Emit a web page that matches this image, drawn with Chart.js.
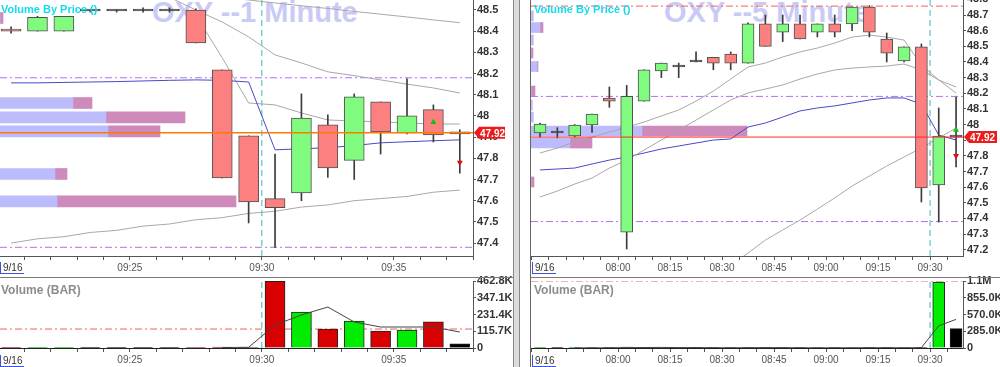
<!DOCTYPE html>
<html>
<head>
<meta charset="utf-8">
<script src="https://cdn.jsdelivr.net/npm/chart.js@4.4.1/dist/chart.umd.min.js"></script>
<style>
body { margin: 0; background: #fff; }
#wrap { position: relative; width: 1000px; height: 367px; overflow: hidden; font-family: "Liberation Sans", Arial, sans-serif; }
canvas { position: absolute; z-index: 2; }
.txt { position: absolute; white-space: nowrap; }
.wm { font-size: 29px; font-weight: bold; color: #cacaf6; line-height: 29px; top: -2px; z-index: 1; }
.vbp { font-size: 11px; font-weight: bold; color: #14dcec; line-height: 11px; top: 4px; z-index: 5; }
.volt { font-size: 12px; font-weight: bold; color: #8c8c8c; line-height: 12px; top: 284px; z-index: 5; }
.date { font-size: 10px; color: #333; line-height: 11px; border-left: 1px solid #4050e0; border-bottom: 1px solid #4050e0; padding: 0 2px; z-index: 5; }
.sep { position: absolute; background: #7a7a7a; z-index: 6; }
</style>
</head>
<body>
<div id="wrap">
  <div class="txt wm" style="left:152px">OXY --1 Minute</div>
  <div class="txt wm" style="left:664px">OXY --5 Minute</div>
  <div class="txt vbp" style="left:1px">Volume By Price ()</div>
  <div class="txt vbp" style="left:534px">Volume By Price ()</div>
  <div class="txt volt" style="left:1px">Volume (BAR)</div>
  <div class="txt volt" style="left:534px">Volume (BAR)</div>
  <div class="txt date" style="left:0px;top:262px">9/16</div>
  <div class="txt date" style="left:0px;top:355px">9/16</div>
  <div class="txt date" style="left:532px;top:262px">9/16</div>
  <div class="txt date" style="left:532px;top:355px">9/16</div>

  <canvas id="priceL" width="513" height="278" style="left:0;top:0"></canvas>
  <canvas id="volL" width="513" height="97" style="left:0;top:270px"></canvas>
  <canvas id="priceR" width="469" height="278" style="left:531px;top:0"></canvas>
  <canvas id="volR" width="469" height="97" style="left:531px;top:270px"></canvas>

  <div class="sep" style="left:0;top:277px;width:513px;height:1px"></div>
  <div class="sep" style="left:531px;top:277px;width:469px;height:1px"></div>
  <div class="sep" style="left:513px;top:0;width:7px;height:367px;background:#dcdcdc;border-left:1px solid #888;border-right:1px solid #888;box-sizing:border-box"></div>
  <div class="sep" style="left:530px;top:0;width:1px;height:367px;background:#666"></div>
</div>

<script>
// ---------- 1 minute (left) ----------
const leftBars = ['09:20','09:21','09:22','09:23','09:24','09:25','09:26','09:27','09:28',
                  '09:29','09:30','09:31','09:32','09:33','09:34','09:35','09:36','09:37'];
const leftOpen  = [48.41,48.40,48.40,48.495,48.495,48.495,48.495,48.50,48.217,47.906,47.61,47.637,47.958,47.79,48.066,47.92,48.03,47.915];
const leftHigh  = [48.42,48.47,48.47,48.50,48.50,48.51,48.51,48.505,48.217,47.906,47.82,48.104,48.005,48.104,48.066,48.175,48.052,47.935];
const leftLow   = [48.39,48.40,48.40,48.49,48.49,48.49,48.49,48.345,47.707,47.495,47.38,47.60,47.71,47.70,47.82,47.915,47.877,47.73];
const leftClose = [48.40,48.465,48.47,48.495,48.495,48.495,48.495,48.345,47.707,47.594,47.567,47.99,47.755,48.09,47.925,48.0,47.91,47.915];
const leftVolume = [2000,1500,1500,1000,1000,1000,1000,3000,6000,4000,460000,248000,131000,186000,117000,124000,180000,28000];
const leftVolAvg = [null,null,null,null,null,null,null,null,3000,5000,159000,228000,283000,180000,145000,145000,145000,110000];
const leftUpper = [null,null,null,null,null,null,null,48.575,48.56,48.547,48.533,48.52,48.507,48.493,48.48,48.467,48.453,48.44];
const leftMid   = [null,null,null,null,null,null,48.56,48.50,48.443,48.373,48.288,48.25,48.208,48.19,48.17,48.15,48.132,48.108];
const leftFast  = [null,null,null,null,null,null,null,48.476,48.274,48.061,48.052,48.014,47.981,47.976,47.972,47.967,47.962,47.962];
const leftLower = [47.40,47.42,47.43,47.45,47.46,47.48,47.49,47.51,47.52,47.54,47.55,47.57,47.58,47.60,47.61,47.62,47.64,47.65];
const leftVwap  = [48.156,48.156,48.158,48.16,48.162,48.165,48.168,48.17,48.168,48.16,47.84,47.845,47.85,47.86,47.873,47.878,47.883,47.887];
const leftVbpPrice = [48.462,48.061,47.993,47.927,47.726,47.597];
const leftVbpBuy   = [0,73,106,108,55,57];
const leftVbpSell  = [3,19,79,52,12,179];
const leftPriceTicks = [47.4,47.5,47.6,47.7,47.8,47.9,48.0,48.1,48.2,48.3,48.4,48.5];
const leftVolTicks = [0,115700,231400,347100,462800];
const leftTimeLabels = ['09:25','09:30','09:35'];
const leftUpTri = {bar: '09:36', price: 47.97};
const leftDownTri = {bar: '09:37', price: 47.78};
const leftVolLevel = 131000;

// ---------- 5 minute (right) ----------
const rightBars = ['07:35','07:40','07:45','07:50','07:55','08:00','08:05','08:10','08:15','08:20','08:25','08:30','08:35',
                   '08:40','08:45','08:50','08:55','09:00','09:05','09:10','09:15','09:20','09:25','09:30','09:35'];
const rightOpen  = [47.946,47.946,47.927,47.997,48.17,47.313,48.15,48.342,48.368,48.40,48.43,48.45,48.393,48.643,48.59,48.643,48.59,48.643,48.643,48.75,48.547,48.406,48.496,47.614,47.92];
const rightHigh  = [48.01,47.98,48.0,48.067,48.24,48.25,48.349,48.393,48.393,48.464,48.43,48.464,48.65,48.70,48.70,48.70,48.643,48.70,48.75,48.76,48.585,48.496,48.515,48.106,48.176];
const rightLow   = [47.92,47.915,47.92,47.95,48.11,47.205,48.15,48.30,48.30,48.40,48.35,48.35,48.393,48.5,48.53,48.547,48.56,48.56,48.60,48.56,48.40,48.40,47.505,47.377,47.73];
const rightClose = [48.003,47.946,47.997,48.067,48.15,48.18,48.349,48.393,48.368,48.40,48.393,48.393,48.643,48.5,48.643,48.547,48.643,48.59,48.75,48.59,48.457,48.496,47.595,47.927,47.92];
const rightVolume = [3000,2000,2000,3000,4000,15000,5000,9000,9000,3000,3000,3000,12000,4000,3000,3000,3000,3000,8000,4000,3000,3000,12000,1120000,330000];
const rightVolAvg = [null,null,2300,2300,3000,7300,8000,9700,7700,7000,5000,3000,6000,6300,6300,3300,3000,3000,4700,5000,5000,3300,6000,378000,487000];
const rightUpper = [47.818,47.85,47.889,47.92,47.952,47.984,48.016,48.055,48.093,48.15,48.214,48.291,48.368,48.393,48.432,48.464,48.489,48.521,48.559,48.572,48.559,48.54,48.38,48.285,48.24];
const rightMid   = [47.537,47.575,47.62,47.658,47.722,47.773,47.837,47.901,47.965,48.029,48.093,48.157,48.202,48.227,48.253,48.291,48.323,48.349,48.361,48.368,48.374,48.387,48.349,48.285,48.202];
const rightLower = [null,null,null,null,null,null,null,null,null,null,null,47.10,47.179,47.262,47.326,47.39,47.46,47.531,47.607,47.671,47.735,47.793,47.85,47.914,47.978];
const rightVwap  = [47.71,47.716,47.722,47.748,47.773,47.793,47.818,47.844,47.863,47.882,47.901,47.908,47.984,48.01,48.048,48.087,48.106,48.119,48.138,48.157,48.17,48.17,48.131,47.933,47.901];
const rightVbpPrice = [48.694,48.62,48.54,48.457,48.371,48.214,48.125,48.048,47.959,47.882,47.633];
const rightVbpBuy   = [2,9,2,0,6,0,1,2,111,39,0];
const rightVbpSell  = [0,3,0,2,1,4,0,0,105,22,3];
const rightPriceTicks = [47.2,47.3,47.4,47.5,47.6,47.7,47.8,47.9,48.0,48.1,48.2,48.3,48.4,48.5,48.6,48.7,48.8];
const rightVolTicks = [0,285000,570000,855000,1140000];
const rightTimeLabels = ['08:00','08:15','08:30','08:45','09:00','09:15','09:30'];
const rightUpTri = {bar: '09:35', price: 47.965};
const rightDownTri = {bar: '09:35', price: 47.80};
const rightVolLevel = 1140000;

// shared
const lastPrice = 47.92;
const levelHigh = 48.18;
const levelLow = 47.38;
const rightTopLevel = 48.757;
const openTime = '09:30';

Chart.defaults.font.family = '"Liberation Sans", Arial, sans-serif';

function toMin(label, base) {
    const a = label.split(':').map(Number), b = base.split(':').map(Number);
    return (a[0] * 60 + a[1]) - (b[0] * 60 + b[1]);
}

function candleColor(o, c, up, down, flat) {
    return c > o ? up : (c < o ? down : flat);
}

function volFmt(v) {
    if (v === 0) return '0';
    if (v >= 1e6) return (v / 1e6).toFixed(1) + 'M';
    return (v / 1000).toFixed(1) + 'K';
}

// red price box on the right axis
const priceTag = {
    id: 'priceTag',
    afterDraw(chart, args, opts) {
        if (!opts || opts.value == null) return;
        const ctx = chart.ctx, area = chart.chartArea;
        const y = chart.scales.y.getPixelForValue(opts.value);
        const x0 = area.right + 1, x1 = x0 + opts.w;
        ctx.save();
        ctx.fillStyle = '#ec1c1c';
        ctx.beginPath();
        ctx.moveTo(x0, y);
        ctx.lineTo(x0 + 5, y - 6);
        ctx.lineTo(x1, y - 6);
        ctx.lineTo(x1, y + 6);
        ctx.lineTo(x0 + 5, y + 6);
        ctx.closePath();
        ctx.fill();
        ctx.fillStyle = '#fff';
        ctx.font = 'bold 10px "Liberation Sans", Arial';
        ctx.textBaseline = 'middle';
        ctx.fillText(opts.value.toFixed(2), x0 + 6, y + 1);
        ctx.restore();
    }
};

function xAxis(p, h) {
    const labelAt = {};
    p.timeLabels.forEach(l => { labelAt[toMin(l, p.base)] = l; });
    return {
        type: 'linear', min: p.xMin, max: p.xMax, offset: false,
        afterBuildTicks: s => {
            const t = [];
            for (let v = Math.ceil(s.min / p.step) * p.step; v <= s.max; v += p.step) t.push({value: v});
            s.ticks = t;
        },
        ticks: {autoSkip: false, maxRotation: 0, color: '#555', font: {size: 10}, padding: 2,
                callback: v => labelAt[v] || ''},
        grid: {drawOnChartArea: false, offset: false, color: '#555', tickLength: 4},
        border: {color: p.axisColor || '#555'},
        afterFit: s => { s.height = h; s.paddingLeft = 0; s.paddingRight = 0; }
    };
}

function yAxis(min, max, ticksArr, fmt, w) {
    return {
        type: 'linear', position: 'right', min: min, max: max, offset: false,
        afterBuildTicks: s => { s.ticks = ticksArr.map(v => ({value: v})); },
        ticks: {autoSkip: false, color: '#333', font: {size: 11, weight: 'bold'}, padding: 1, callback: fmt},
        grid: {drawOnChartArea: false, offset: false, color: '#555', tickLength: 3},
        border: {color: '#555'},
        afterFit: s => { s.width = w; s.paddingTop = 0; s.paddingBottom = 0; }
    };
}

function lineSet(xs, arr, color, order) {
    return {type: 'line', data: arr.map((v, i) => ({x: xs[i], y: v})), borderColor: color, borderWidth: 1,
            pointRadius: 0, spanGaps: false, order: order};
}

function levelSet(p, v, color, dash, width, order) {
    return {type: 'line', data: [{x: p.xMin, y: v}, {x: p.xMax, y: v}], borderColor: color,
            borderWidth: width, borderDash: dash, pointRadius: 0, order: order};
}

function triSet(p, tri, color, rot) {
    return {type: 'line', showLine: false,
            data: [{x: toMin(tri.bar, p.base) + p.step / 2, y: tri.price}],
            pointStyle: 'triangle', pointRadius: 3.5, pointRotation: rot,
            backgroundColor: color, borderColor: color, borderWidth: 0, order: 0};
}

function buildPrice(id, p) {
    const xs = p.bars.map(b => toMin(b, p.base) + p.step / 2);
    const body = p.open.map((o, i) => candleColor(o, p.close[i], '#80fb80', '#fc8080', '#333'));
    const openX = toMin(openTime, p.base);
    const datasets = [
        {type: 'bar', data: xs.map((x, i) => ({x: x, y: [p.low[i], p.high[i]]})),
         backgroundColor: '#3c3c3c', barThickness: 1, grouped: false, order: 3},
        {type: 'bar', data: xs.map((x, i) => ({x: x, y: [p.open[i], p.close[i]]})),
         backgroundColor: body, borderColor: '#505050', borderWidth: 1, borderSkipped: false,
         barThickness: p.bodyW, minBarLength: 2, grouped: false, order: 2},
        lineSet(xs, p.upper, '#a8a8a8', 6),
        lineSet(xs, p.mid, '#a8a8a8', 6),
        lineSet(xs, p.lower, '#a8a8a8', 6),
        lineSet(xs, p.vwap, '#4848c8', 6),
        levelSet(p, levelHigh, '#b070f0', [7, 3, 2, 3], 1, 7),
        levelSet(p, levelLow, '#b070f0', [7, 3, 2, 3], 1, 7),
        levelSet(p, lastPrice, p.priceLineColor, [], p.priceLineWidth, 1),
        {type: 'line', data: [{x: openX, y: p.yMin}, {x: openX, y: p.yMax}], borderColor: '#3cb8b8',
         borderWidth: 1, borderDash: [6, 4], pointRadius: 0, order: 8},
        triSet(p, p.upTri, '#10c010', 0),
        triSet(p, p.downTri, '#e01010', 180),
        {type: 'bar', indexAxis: 'y', xAxisID: 'xv', yAxisID: 'y',
         data: p.vbpPrice.map((v, i) => ({x: [0, p.vbpBuy[i]], y: v})),
         backgroundColor: '#bcbcfc', barThickness: p.vbpH, grouped: false, order: 30},
        {type: 'bar', indexAxis: 'y', xAxisID: 'xv', yAxisID: 'y',
         data: p.vbpPrice.map((v, i) => ({x: [p.vbpBuy[i], p.vbpBuy[i] + p.vbpSell[i]], y: v})),
         backgroundColor: '#cd8aba', barThickness: p.vbpH, grouped: false, order: 30}
    ];
    if (p.extra) datasets.push(p.extra);
    return new Chart(document.getElementById(id), {
        type: 'bar',
        data: {datasets: datasets},
        options: {
            responsive: false, animation: false, devicePixelRatio: 1,
            layout: {padding: 0, autoPadding: false},
            plugins: {legend: {display: false}, tooltip: {enabled: false}, priceTag: {value: lastPrice, w: p.tagW}},
            scales: {
                x: xAxis(p, 22),
                y: yAxis(p.yMin, p.yMax, p.priceTicks, v => String(Math.round(v * 10) / 10), p.axisW),
                xv: {type: 'linear', axis: 'x', min: 0, max: p.vbpMax, offset: false, display: false}
            }
        },
        plugins: [priceTag]
    });
}

function buildVolume(id, p) {
    const xs = p.bars.map(b => toMin(b, p.base) + p.step / 2);
    const colors = p.open.map((o, i) => candleColor(o, p.close[i], '#00ec00', '#d80000', '#000'));
    const openX = toMin(openTime, p.base);
    const vMax = p.volTicks[p.volTicks.length - 1];
    return new Chart(document.getElementById(id), {
        type: 'bar',
        data: {datasets: [
            {type: 'bar', data: xs.map((x, i) => ({x: x, y: p.volume[i]})), backgroundColor: colors,
             borderColor: '#222', borderWidth: 1, barThickness: p.bodyW, grouped: false, order: 3},
            lineSet(xs, p.volAvg, '#444', 1),
            levelSet(p, p.volLevel, '#f06060', [7, 3, 2, 3], 1, 4),
            {type: 'line', data: [{x: openX, y: 0}, {x: openX, y: vMax}], borderColor: '#3cb8b8',
             borderWidth: 1, borderDash: [6, 4], pointRadius: 0, order: 5}
        ]},
        options: {
            responsive: false, animation: false, devicePixelRatio: 1,
            layout: {padding: {top: 11}, autoPadding: false},
            plugins: {legend: {display: false}, tooltip: {enabled: false}},
            scales: {
                x: xAxis(Object.assign({}, p, {axisColor: '#222'}), 19),
                y: yAxis(0, vMax, p.volTicks, volFmt, p.axisW)
            }
        }
    });
}

const left = {
    bars: leftBars, base: '09:20', step: 1, xMin: 0.08, xMax: 18.0,
    open: leftOpen, high: leftHigh, low: leftLow, close: leftClose,
    volume: leftVolume, volAvg: leftVolAvg, volTicks: leftVolTicks, volLevel: leftVolLevel,
    upper: leftUpper, mid: leftMid, lower: leftLower, vwap: leftVwap,
    vbpPrice: leftVbpPrice, vbpBuy: leftVbpBuy, vbpSell: leftVbpSell, vbpMax: 473, vbpH: 11,
    priceTicks: leftPriceTicks, timeLabels: leftTimeLabels, yMin: 47.339, yMax: 48.547,
    upTri: leftUpTri, downTri: leftDownTri, bodyW: 20, axisW: 40, tagW: 31,
    priceLineColor: '#ff7a00', priceLineWidth: 1.5,
    extra: lineSet(leftBars.map(b => toMin(b, '09:20') + 0.5), leftFast, '#a8a8a8', 6)
};

const right = {
    bars: rightBars, base: '08:00', step: 5, xMin: -25.1, xMax: 99.5,
    open: rightOpen, high: rightHigh, low: rightLow, close: rightClose,
    volume: rightVolume, volAvg: rightVolAvg, volTicks: rightVolTicks, volLevel: rightVolLevel,
    upper: rightUpper, mid: rightMid, lower: rightLower, vwap: rightVwap,
    vbpPrice: rightVbpPrice, vbpBuy: rightVbpBuy, vbpSell: rightVbpSell, vbpMax: 432, vbpH: 10,
    priceTicks: rightPriceTicks, timeLabels: rightTimeLabels, yMin: 47.16, yMax: 48.796,
    upTri: rightUpTri, downTri: rightDownTri, bodyW: 12, axisW: 37, tagW: 33,
    priceLineColor: '#ff2a2a', priceLineWidth: 1,
    extra: levelSet({xMin: -25.1, xMax: 99.5}, rightTopLevel, '#f06060', [7, 3, 2, 3], 1, 7)
};

buildPrice('priceL', left);
buildVolume('volL', left);
buildPrice('priceR', right);
buildVolume('volR', right);
</script>
</body>
</html>
